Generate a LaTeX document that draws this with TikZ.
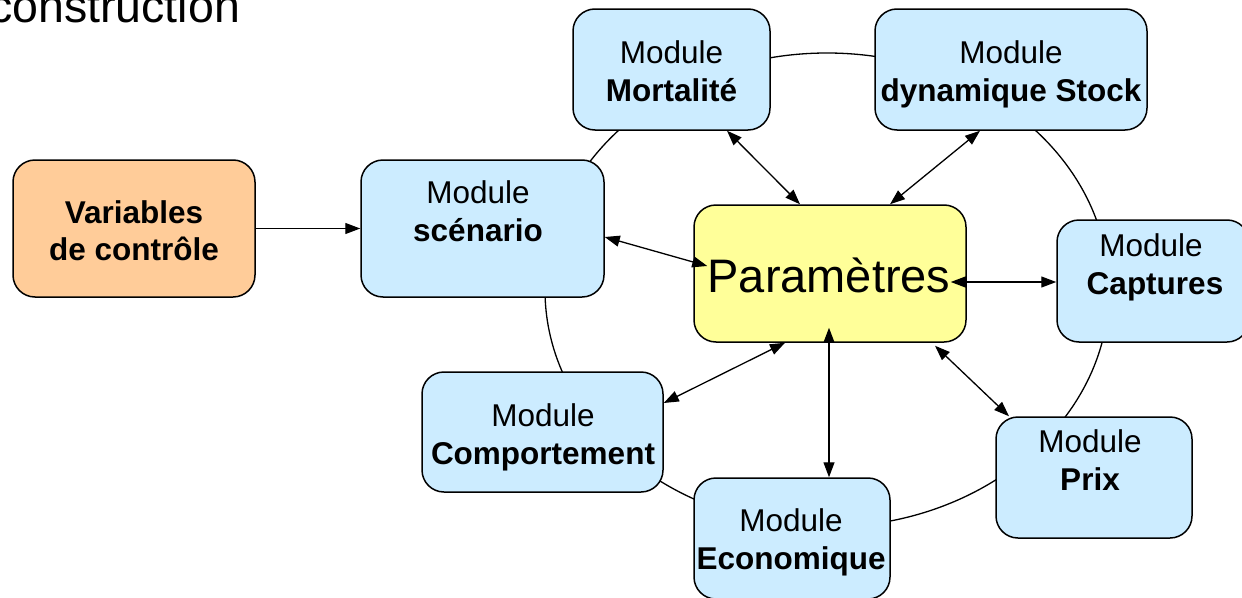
\documentclass[tikz,border=0pt]{standalone}
\usepackage{fontspec}
\setmainfont{Liberation Sans}
\usetikzlibrary{arrows.meta}
\definecolor{boxblue}{HTML}{CCECFF}
\definecolor{boxorange}{HTML}{FFCC99}
\definecolor{boxyellow}{HTML}{FFFF99}
\tikzset{
  modbox/.style={draw=black, line width=1.5pt, rounded corners=22pt, fill=boxblue, inner sep=0pt, anchor=center},
  lbl/.style={anchor=base, inner sep=0pt, font=\fontsize{31.5}{38}\selectfont},
  blbl/.style={lbl, font=\fontsize{31.5}{38}\selectfont\bfseries},
  link/.style={line width=1.3pt, {Triangle[length=15pt,width=11pt]}-{Triangle[length=15pt,width=11pt]}},
  onelink/.style={line width=1.3pt, -{Triangle[length=15pt,width=11pt]}},
  ring/.style={line width=1.3pt}
}
\begin{document}
\begin{tikzpicture}[x=1pt,y=-1pt]
\useasboundingbox (0,0) rectangle (1242,597);
% ring
\draw[ring] (827,290) ellipse [x radius=282pt, y radius=237pt];
% title fragment
\node[anchor=base west, inner sep=0pt, font=\fontsize{46.5}{50}\selectfont] (title) at (-11,23) {construction};
% boxes
\node[modbox, fill=boxorange, minimum width=242pt, minimum height=137pt] (var) at (134,228.5) {};
\node[modbox, minimum width=243pt, minimum height=137pt] (scen) at (482.5,228.5) {};
\node[modbox, minimum width=197pt, minimum height=121pt] (mort) at (671.5,69.5) {};
\node[modbox, minimum width=272pt, minimum height=121pt] (stock) at (1011,69.5) {};
\node[modbox, fill=boxyellow, minimum width=272pt, minimum height=137pt] (para) at (830,273.5) {};
\node[modbox, minimum width=192pt, minimum height=122pt] (capt) at (1153,281) {};
\node[modbox, minimum width=241pt, minimum height=120pt] (comp) at (542.5,432) {};
\node[modbox, minimum width=196pt, minimum height=121pt] (econ) at (792,538.5) {};
\node[modbox, minimum width=196pt, minimum height=121pt] (prix) at (1094,477.5) {};
% texts
\node[blbl] (varA) at (134,223) {Variables};
\node[blbl] (varB) at (134,260) {de contrôle};
\node[lbl] (scenA) at (478,203) {Module};
\node[blbl] (scenB) at (478,241) {scénario};
\node[lbl] (mortA) at (671.5,63) {Module};
\node[blbl] (mortB) at (671.5,101) {Mortalité};
\node[lbl] (stockA) at (1011,63) {Module};
\node[blbl] (stockB) at (1011,101) {dynamique Stock};
\node[anchor=base, inner sep=0pt, font=\fontsize{47}{50}\selectfont] (paraT) at (829,292) {Paramètres};
\node[lbl] (captA) at (1151,256) {Module};
\node[blbl] (captB) at (1155,294) {Captures};
\node[lbl] (compA) at (543,426) {Module};
\node[blbl] (compB) at (543,464) {Comportement};
\node[lbl] (econA) at (791,531) {Module};
\node[blbl] (econB) at (791,569) {Economique};
\node[lbl] (prixA) at (1090,452) {Module};
\node[blbl] (prixB) at (1090,490) {Prix};
% connectors
\draw[onelink] (var.east) -- (scen.west);
\draw[link] ([yshift=-8.5pt]scen.east) -- ([xshift=14pt,yshift=7.5pt]para.west);
\draw[link] ([xshift=55.5pt]mort.south) -- ([xshift=-30pt]para.north);
\draw[link] ([xshift=-31pt]stock.south) -- ([xshift=60pt]para.north);
\draw[link] ([xshift=-16pt,yshift=-8.5pt]para.east) -- ([yshift=-1pt]capt.west);
\draw[link] ([xshift=-45pt]para.south) -- ([yshift=29pt]comp.east);
\draw[link] ([xshift=-1pt,yshift=15pt]para.south) -- ([xshift=37pt]econ.north);
\draw[link] ([xshift=105pt,yshift=-3pt]para.south) -- ([xshift=-85pt]prix.north);
\end{tikzpicture}
\end{document}
